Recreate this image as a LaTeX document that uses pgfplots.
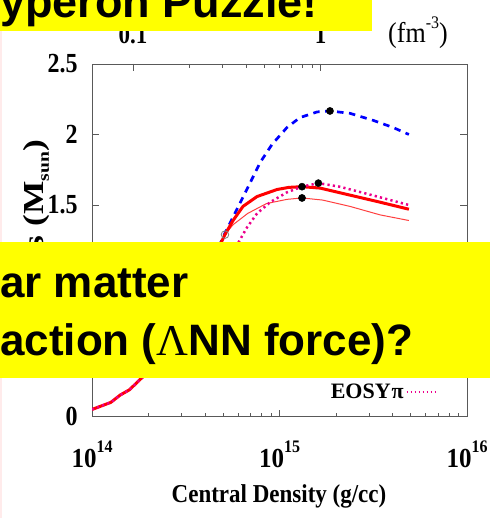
\documentclass[border=0pt]{standalone}
\usepackage{fontspec}
\setmainfont{Liberation Serif}
\newfontfamily\slidefont{Liberation Sans}
\usepackage{pgfplots}
\pgfplotsset{compat=1.18}
\definecolor{slideyellow}{RGB}{255,255,0}
\newcommand{\tenpow}[1]{10\raisebox{0.52em}{\fontsize{16}{16}\selectfont #1}}

\pgfplotstableread{
x M
1.000e14 0.05
1.259e14 0.10
1.413e14 0.152
1.585e14 0.19
1.862e14 0.28
2.239e14 0.44
2.818e14 0.66
3.548e14 0.89
4.467e14 1.13
5.117e14 1.29
5.649e14 1.39
6.383e14 1.49
7.586e14 1.56
9.705e14 1.61
1.122e15 1.625
1.318e15 1.63
1.644e15 1.62
2.377e15 1.57
3.436e15 1.52
4.898e15 1.47
}\redthick

\pgfplotstableread{
x M
5.117e14 1.29
5.649e14 1.36
6.761e14 1.44
8.511e14 1.51
1.096e15 1.54
1.318e15 1.55
1.698e15 1.535
2.377e15 1.49
3.436e15 1.43
4.898e15 1.39
}\redthin

\pgfplotstableread{
x M
4.467e14 1.13
5.117e14 1.30
6.012e14 1.486
7.228e14 1.70
7.870e14 1.80
9.120e14 1.93
1.096e15 2.05
1.285e15 2.12
1.585e15 2.16
1.858e15 2.167
2.377e15 2.15
3.162e15 2.10
4.027e15 2.05
4.898e15 2.00
}\blue

\pgfplotstableread{
x M
1.000e14 0.05
1.259e14 0.10
1.413e14 0.152
1.585e14 0.19
1.862e14 0.28
2.239e14 0.44
2.818e14 0.66
3.548e14 0.89
4.467e14 1.03
5.248e14 1.13
6.012e14 1.23
6.699e14 1.34
7.586e14 1.44
8.913e14 1.52
1.096e15 1.59
1.318e15 1.63
1.611e15 1.655
2.089e15 1.63
2.917e15 1.58
4.027e15 1.53
4.898e15 1.50
}\magentaeos

\begin{document}
\begin{tikzpicture}
\useasboundingbox (0,0) rectangle (490pt,-518pt);
\fill[red!8] (0,-31pt) rectangle (2pt,-518pt);
\begin{axis}[
  at={(92pt,-416.5pt)}, anchor=south west,
  scale only axis, width=375pt, height=352.5pt,
  xmode=log, xmin=1e14, xmax=1e16, ymin=0, ymax=2.5,
  axis line style={black!65, line width=0.8pt},
  tick style={black!65, line width=0.7pt},
  major tick length=7pt, minor tick length=4pt,
  tick align=inside,
  xtick pos=left, ytick pos=both,
  xtick={1e14,1e15,1e16},
  xticklabels={\tenpow{14},\tenpow{15},\tenpow{16}},
  ytick={0,0.5,1,1.5,2,2.5},
  yticklabels={0,0.5,1,1.5,2,2.5},
  yticklabel style={font=\fontsize{24}{24}\selectfont\bfseries, yscale=1.15, xshift=-11pt},
  xticklabel style={font=\fontsize{25}{25}\selectfont\bfseries, yscale=1.1, yshift=-19pt},
  legend plot pos=right,
  legend cell align=right,
  legend style={at={(0.93,0.07)}, anchor=east, draw=none, fill=none,
    font=\fontsize{22}{22}\selectfont\bfseries},
]
\addplot[forget plot, blue, line width=2.7pt, dash pattern=on 6.5pt off 5.5pt] table[x=x,y=M] {\blue};
\addplot[forget plot, red!75, line width=1pt] table[x=x,y=M] {\redthin};
\addplot[forget plot, red, line width=3pt] table[x=x,y=M] {\redthick};
\addplot[magenta, line width=2.5pt, dash pattern=on 2.2pt off 3.2pt,
  legend image code/.code={\draw[magenta, line width=1.8pt, dash pattern=on 1.6pt off 2.4pt] (0pt,0pt) -- (30pt,0pt);}]
  table[x=x,y=M] {\magentaeos};
\addlegendentry{EOSY\kern1pt π}
\addplot[forget plot, only marks, mark=*, mark size=3.6pt, black] coordinates {
(1.858e15,2.167) (1.318e15,1.63) (1.318e15,1.55) (1.611e15,1.655)};
\addplot[forget plot, only marks, mark=o, mark size=3.8pt, gray, line width=0.8pt] coordinates {
(5.117e14,1.29) (6.0e14,1.20)};
\end{axis}
\begin{axis}[
  at={(92pt,-416.5pt)}, anchor=south west,
  scale only axis, width=375pt, height=352.5pt,
  xmode=log, xmin=0.06042, xmax=6.042, ymin=0, ymax=2.5,
  axis line style={draw=none},
  tick style={black!65, line width=0.7pt},
  major tick length=7pt, minor tick length=4pt,
  tick align=inside,
  xtick pos=right, ytick=\empty,
  xtick={0.1,1}, xticklabels={0.1,1},
  xticklabel style={font=\fontsize{23}{23}\selectfont\bfseries, yscale=1.1, yshift=15pt},
]
\addplot[draw=none] coordinates {(0.1,1) (1,1)};
\end{axis}
\node[anchor=base, inner sep=0, yscale=1.1, font=\fontsize{26}{26}\selectfont] at (418pt,-43pt) {(fm\raisebox{0.5em}{\fontsize{16}{16}\selectfont -3})};
\node[anchor=base east, rotate=90, inner sep=0, font=\fontsize{29}{29}\selectfont\bfseries] at (43pt,-140pt) {\scalebox{1.22}[1]{Mass (M\raisebox{-0.2em}{\fontsize{16}{16}\selectfont sun})}};
\node[anchor=base, inner sep=0, yscale=1.12, font=\fontsize{23}{23}\selectfont\bfseries] at (279pt,-502pt) {Central Density (g/cc)};
\fill[slideyellow] (0,0) rectangle (372pt,-31pt);
\fill[slideyellow] (0,-242pt) rectangle (490pt,-378pt);
\node[anchor=base west, inner sep=0, font=\slidefont\bfseries\fontsize{45}{45}\selectfont] at (0,-18pt) {yperon Puzzle!};
\node[anchor=base west, inner sep=0, font=\slidefont\bfseries\fontsize{44}{44}\selectfont] at (0,-297pt) {ar matter};
\node[anchor=base west, inner sep=0, font=\slidefont\bfseries\fontsize{44}{44}\selectfont] at (0,-355pt) {action ({\rmfamily\mdseries Λ}NN force)?};
\end{tikzpicture}
\end{document}
